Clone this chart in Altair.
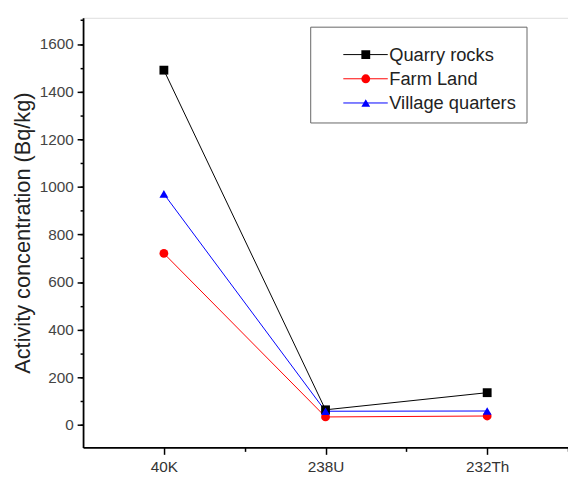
import altair as alt
import pandas as pd

isotopes = ["40K", "238U", "232Th"]
series = ["Quarry rocks", "Farm Land", "Village quarters"]
quarry = [1490, 63, 135]
farm = [720, 33, 37]
village = [970, 57, 58]
colors = ["#000000", "#ff0000", "#0000ff"]
marker_shapes = ["square", "circle", "triangle-up"]

y_major = list(range(0, 1601, 200))
y_minor = list(range(-100, 1701, 100))
x_major = [1, 2, 3]
x_minor = [1.5, 2.5, 3.5]

markers = [s + " marker" for s in series]
values = {"Quarry rocks": quarry, "Farm Land": farm, "Village quarters": village}
rows = []
for k, s in enumerate(series):
    for i, iso in enumerate(isotopes):
        rows.append({"series": s, "marker": markers[k], "isotope": iso, "pos": i + 1,
                     "value": values[s][i]})
df = pd.DataFrame(rows)

label_expr = " : ".join(
    f"datum.value == {i + 1} ? '{iso}'" for i, iso in enumerate(isotopes)
) + " : ''"

FONT = "Liberation Sans"
xscale = alt.Scale(domain=[0.5, 3.5], nice=False, zero=False)
yscale = alt.Scale(domain=[-95, 1710], nice=False, zero=False)

x_main_axis = alt.Axis(values=x_major, labelExpr=label_expr, orient="bottom", title=None,
                       grid=False, tickSize=7, tickWidth=1.5, tickColor="#000",
                       domainColor="#000", domainWidth=1.8, labelFont=FONT,
                       labelFontSize=15.5, labelColor="#333", labelPadding=5)
y_main_axis = alt.Axis(values=y_major, format="d", orient="left",
                       title="Activity concentration (Bq/kg)",
                       grid=False, tickSize=6, tickWidth=1.5, tickColor="#000",
                       domainColor="#000", domainWidth=1.8, labelFont=FONT,
                       labelFontSize=15.5, labelColor="#444", labelPadding=4,
                       titleFont=FONT, titleFontSize=22, titleFontWeight="normal",
                       titleColor="#222", titlePadding=5)
x_minor_axis = alt.Axis(values=x_minor, orient="bottom", title=None, grid=False, labels=False,
                        domain=False, tickSize=4, tickWidth=1.5, tickColor="#000")
y_minor_axis = alt.Axis(values=y_minor, orient="left", title=None, grid=False, labels=False,
                        domain=False, tickSize=3, tickWidth=1.5, tickColor="#000")

line_legend = alt.Legend(title=" ", titleFontSize=6, titlePadding=3, titleOpacity=0,
                         orient="none", legendX=230, legendY=9,
                         symbolType="stroke", symbolSize=2025, symbolStrokeWidth=1,
                         symbolOffset=23, labelOffset=1, clipHeight=18.5,
                         labelFont=FONT, labelFontSize=18.5, labelColor="#222",
                         padding=10, rowPadding=5.5, strokeColor="#666", zindex=0)
marker_legend = alt.Legend(title=None, orient="none", legendX=277, legendY=28,
                           symbolSize=80, symbolStrokeWidth=0, symbolOffset=0,
                           labelFont=FONT, labelFontSize=18.5, labelExpr="''",
                           clipHeight=18.5, padding=0, rowPadding=5.5, zindex=1)

lines = alt.Chart(df).mark_line(strokeWidth=1).encode(
    x=alt.X("pos:Q", scale=xscale, axis=x_main_axis),
    y=alt.Y("value:Q", scale=yscale, axis=y_main_axis),
    stroke=alt.Stroke("series:N", scale=alt.Scale(domain=series, range=colors),
                      legend=line_legend),
    detail="series:N",
    order="pos:Q",
)

points = alt.Chart(df).mark_point(filled=True, opacity=1, size=80, strokeWidth=0).encode(
    x=alt.X("pos:Q", scale=xscale, axis=x_minor_axis),
    y=alt.Y("value:Q", scale=yscale, axis=y_minor_axis),
    fill=alt.Fill("marker:N", scale=alt.Scale(domain=markers, range=colors),
                  legend=marker_legend),
    shape=alt.Shape("marker:N", scale=alt.Scale(domain=markers, range=marker_shapes),
                    legend=marker_legend),
)

chart = alt.layer(lines, points).resolve_axis(x="independent", y="independent").properties(
    width=491, height=435,
    autosize=alt.AutoSizeParams(type="none"),
    padding={"left": 76, "top": 7, "right": 0, "bottom": 24},
).configure_view(stroke=None).configure(background="#ffffff")

chart.save("out.html", embed_options={"renderer": "svg", "actions": False})
